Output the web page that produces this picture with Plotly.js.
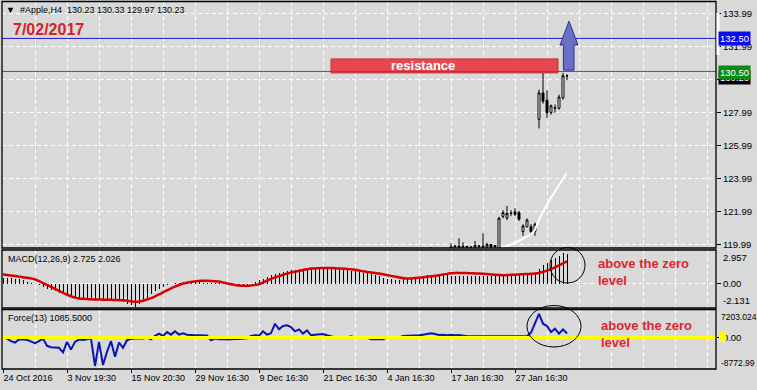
<!DOCTYPE html>
<html><head><meta charset="utf-8">
<script src="https://cdn.plot.ly/plotly-3.0.1.min.js"></script>
<style>html,body{margin:0;padding:0;background:#d9d9d9;}</style>
</head><body><div id="chart" style="width:757px;height:390px;"></div>
<script>
// ---- data ----
const barCount = 142;
const tickIdx = [0,16,32,48,64,80,96,112,128];
const tickLabels = ['24 Oct 2016','3 Nov 19:30','15 Nov 20:30','29 Nov 16:30','9 Dec 16:30','21 Dec 16:30','4 Jan 16:30','17 Jan 16:30','27 Jan 16:30'];
const minorIdx = [8,24,40,56,72,88,104,120,136,144,152,160,168,176];
const priceTicks = [119.99,121.99,123.99,125.99,127.99,129.99,131.99,133.99];
const priceTickText = ['119.99','121.99','123.99','125.99','127.99','','131.99','133.99'];

const candleStart = 107;
const openP  = [119.55,119.70,119.50,119.62,119.55,119.72,119.88,119.92,119.86,119.90,119.84,119.86,119.95,119.91,119.86,120.02,119.88,119.70,121.72,121.62,121.90,122.00,121.95,120.80,121.10,121.10,120.82,127.60,129.20,128.75,128.02,128.27,128.28,128.90,130.23];
const highP  = [119.86,119.78,119.72,119.75,119.79,120.09,119.98,120.40,120.15,119.95,119.92,120.23,120.00,120.70,120.12,120.05,120.00,121.70,122.10,122.36,122.10,122.22,122.05,121.25,121.60,121.25,121.35,129.40,130.45,129.35,128.50,128.50,129.10,130.41,130.33];
const lowP   = [119.40,119.45,119.35,119.40,119.45,119.60,119.70,119.72,119.70,119.65,119.66,119.72,119.78,119.75,119.74,119.80,119.70,119.60,121.60,121.50,121.73,121.75,121.45,120.55,121.05,120.65,120.55,127.05,128.55,127.68,127.88,128.00,128.18,128.79,129.97];
const closeP = [119.70,119.50,119.62,119.55,119.72,119.88,119.92,119.86,119.90,119.84,119.86,119.95,119.91,119.86,120.02,119.88,119.96,121.61,121.95,121.90,121.92,121.85,121.55,121.14,121.50,120.80,121.25,129.20,128.70,128.00,128.42,128.30,128.95,130.24,130.23];

const arcIdx   = [124.5,127.5,130,132.5,134.25,136.75,139.25,140.9];
const arcPrice = [119.82,120.08,120.38,120.75,121.65,122.75,123.70,124.35];

const macdMain = [0.55,0.55,0.5,0.45,0.4,0.3,0.12,0.05,0.0,-0.1,
-0.3,-0.45,-0.6,-0.7,-0.85,-0.95,-1.06,-1.2,-1.3,-1.36,
-1.4,-1.42,-1.44,-1.45,-1.45,-1.46,-1.48,-1.5,-1.55,-1.6,
-1.7,-1.85,-1.98,-2.131,-1.9,-1.6,-1.3,-0.95,-0.7,-0.45,
-0.3,-0.15,-0.06,0.05,0.08,0.1,0.1,0.12,0.1,0.1,
0.08,0.07,0.06,0.05,0.03,0.0,-0.05,-0.08,-0.12,-0.15,
-0.15,-0.12,-0.08,0.1,0.3,0.45,0.6,0.75,0.9,1.0,
1.08,1.15,1.2,1.25,1.3,1.33,1.35,1.36,1.37,1.37,
1.36,1.35,1.33,1.3,1.28,1.25,1.22,1.18,1.12,1.06,
1.0,0.93,0.85,0.75,0.65,0.55,0.45,0.4,0.36,0.35,
0.38,0.42,0.48,0.55,0.62,0.7,0.75,0.78,0.8,0.8,
0.78,0.76,0.72,0.7,0.7,0.72,0.72,0.7,0.68,0.66,
0.65,0.66,0.68,0.7,0.78,0.82,0.85,0.86,0.86,0.87,
0.88,0.9,0.9,0.92,1.3,1.65,1.9,2.1,2.3,2.5,
2.8,2.725];
const macdSignal = [0.82,0.78,0.73,0.68,0.63,0.58,0.52,0.47,0.38,0.22,
0.05,-0.12,-0.3,-0.48,-0.66,-0.84,-1.0,-1.15,-1.27,-1.36,
-1.39,-1.41,-1.43,-1.44,-1.45,-1.46,-1.47,-1.48,-1.49,-1.51,
-1.52,-1.56,-1.61,-1.66,-1.64,-1.56,-1.45,-1.33,-1.17,-0.99,
-0.8,-0.61,-0.44,-0.28,-0.13,0.0,0.08,0.15,0.2,0.24,
0.25,0.25,0.24,0.22,0.18,0.1,0.02,-0.07,-0.13,-0.17,
-0.2,-0.21,-0.18,-0.12,-0.06,0.1,0.26,0.42,0.56,0.67,
0.79,0.9,1.0,1.08,1.15,1.23,1.3,1.36,1.38,1.4,
1.41,1.42,1.41,1.4,1.38,1.35,1.33,1.3,1.25,1.19,
1.12,1.06,1.01,0.96,0.91,0.84,0.77,0.7,0.63,0.56,
0.5,0.45,0.47,0.5,0.54,0.58,0.62,0.66,0.7,0.76,
0.82,0.88,0.93,0.97,0.97,0.96,0.95,0.94,0.92,0.91,
0.89,0.86,0.83,0.8,0.78,0.76,0.77,0.79,0.81,0.83,
0.85,0.87,0.89,0.91,0.96,1.06,1.18,1.32,1.48,1.65,
1.84,2.026];
const force = [180,-270,-980,-1340,-540,-450,-630,-980,-1520,-980,
-270,-2230,-2590,-2680,-2770,-4020,-1160,-3210,-1160,-540,
-630,-450,-270,-7680,-1160,-7410,-3840,-980,-5180,-1340,
-2770,-710,-360,-270,-270,-270,0,-450,440,1060,
440,1510,790,1690,790,1160,790,620,620,620,
620,530,-710,-270,-450,-360,-540,-360,-360,-360,
-270,-190,440,620,530,1690,790,1160,3740,2220,
3120,3300,2850,1690,2220,1060,1960,620,790,790,
970,620,350,0,0,0,0,350,0,0,
0,0,-450,-450,-450,-450,0,0,0,0,
440,440,530,620,620,790,970,1160,970,710,
790,620,790,620,710,440,350,350,350,350,
350,350,350,530,350,350,350,350,350,350,
350,350,1340,4020,6420,3740,3120,1510,2400,1060,
2220,1085.5];

const resistanceIdx = [82, 138.75];
const resistancePrice = [130.41, 131.26];
const blueLevel = 132.50, greenLevel = 130.50;

// ---- build ----
const idx = []; for (let i = 0; i < barCount; i++) idx.push(i);
const candleIdx = idx.slice(candleStart);

const W = 757, H = 390;
const px = x => x / W, py = y => 1 - y / H;
const FONT = 'Liberation Sans, Arial, sans-serif';
const dash = '4px,3px';

const traces = [
  {type:'candlestick', x:candleIdx, open:openP, high:highP, low:lowP, close:closeP, xaxis:'x', yaxis:'y',
   increasing:{line:{color:'#000', width:1}, fillcolor:'#ffffff'},
   decreasing:{line:{color:'#000', width:1}, fillcolor:'#000000'},
   whiskerwidth:0, hoverinfo:'skip'},
  {type:'scatter', mode:'lines', x:arcIdx, y:arcPrice, xaxis:'x', yaxis:'y', line:{color:'#ffffff', width:2, shape:'spline'}, hoverinfo:'skip'},
  {type:'bar', x:idx, y:macdMain, xaxis:'x', yaxis:'y2', width:0.25, marker:{color:'#000', line:{width:0}}, hoverinfo:'skip'},
  {type:'scatter', mode:'lines', x:idx, y:macdSignal, xaxis:'x', yaxis:'y2', line:{color:'#d80000', width:2.5, shape:'spline'}, hoverinfo:'skip'},
  {type:'scatter', mode:'lines', x:idx, y:force, xaxis:'x', yaxis:'y3', line:{color:'#0a14b4', width:2}, hoverinfo:'skip'}
];

const shapes = [
  {type:'rect', xref:'x', yref:'y', x0:resistanceIdx[0], x1:resistanceIdx[1], y0:resistancePrice[0], y1:resistancePrice[1], fillcolor:'#e9474f', line:{color:'#c8303a', width:1}, layer:'above'},
  {type:'line', xref:'paper', x0:px(2), x1:px(716), yref:'y', y0:blueLevel, y1:blueLevel, line:{color:'#1a1acc', width:1}},
  {type:'line', xref:'paper', x0:px(2), x1:px(716), yref:'y', y0:greenLevel, y1:greenLevel, line:{color:'#2b7a2b', width:1}},
  {type:'path', xref:'x', yref:'y', path:'M 140.1 130.58 L 140.1 132.1 L 139.25 132.1 L 141.5 133.55 L 143.75 132.1 L 142.75 132.1 L 142.75 130.58 Z', fillcolor:'#6870c8', line:{color:'#2e3490', width:1}, layer:'above'},
  {type:'line', xref:'paper', x0:px(2), x1:px(716), yref:'y3', y0:0, y1:0, line:{color:'#ffff00', width:3}, layer:'above'},
  {type:'rect', xref:'paper', yref:'paper', x0:px(719), x1:px(726), y0:py(342), y1:py(332), fillcolor:'#ffff00', line:{width:0}},
  {type:'rect', xref:'paper', yref:'paper', x0:px(2), x1:px(716), y0:py(248), y1:py(1.5), line:{color:'#000', width:1.3}, layer:'above'},
  {type:'rect', xref:'paper', yref:'paper', x0:px(2), x1:px(716), y0:py(308), y1:py(250), line:{color:'#000', width:1.3}, layer:'above'},
  {type:'rect', xref:'paper', yref:'paper', x0:px(2), x1:px(716), y0:py(369), y1:py(309.5), line:{color:'#000', width:1.3}, layer:'above'},
  {type:'rect', xref:'paper', yref:'paper', x0:px(716.5), x1:px(719.5), y0:py(55), y1:py(13), fillcolor:'#ffffff', line:{width:0}, layer:'above'},
  {type:'circle', xref:'paper', yref:'paper', x0:px(550), x1:px(585), y0:py(283), y1:py(247.5), line:{color:'#000', width:1}, layer:'above'},
  {type:'circle', xref:'paper', yref:'paper', x0:px(527), x1:px(581), y0:py(347), y1:py(305.5), line:{color:'#000', width:1}, layer:'above'}
];

const red = '#e0252b';
const ann = (text, x, y, opt) => Object.assign({text, x:px(x), y:py(y), xref:'paper', yref:'paper', xanchor:'left', yanchor:'middle', showarrow:false, font:{family:FONT, size:9, color:'#000'}}, opt || {});
const annotations = [
  ann('▼  #Apple,H4  130.23 130.33 129.97 130.23', 4, 10),
  ann('<b>7/02/2017</b>', 11, 29.5, {font:{family:FONT, size:16, color:'#d42226'}}),
  ann('MACD(12,26,9) 2.725 2.026', 6, 259),
  ann('Force(13) 1085.5000', 6, 318),
  {text:'<b>resistance</b>', x:105, y:(resistancePrice[0]+resistancePrice[1])/2, xref:'x', yref:'y', showarrow:false, xanchor:'center', yanchor:'middle', font:{family:FONT, size:13, color:'#ffffff'}},
  ann('<b>above the zero<br>level</b>', 596, 271.5, {align:'left', font:{family:FONT, size:13, color:red}}),
  ann('<b>above the zero<br>level</b>', 599, 333.5, {align:'left', font:{family:FONT, size:13, color:red}}),
  ann('130.23', 718, 78, {bgcolor:'#000', font:{family:FONT, size:9.5, color:'#fff'}, borderpad:1}),
  ann('130.50', 718, 72, {bgcolor:'#0c8a18', font:{family:FONT, size:9.5, color:'#fff'}, borderpad:1}),
  ann('132.50', 718, 39, {bgcolor:'#0a0af0', font:{family:FONT, size:9.5, color:'#fff'}, borderpad:1}),
  ann('2.957', 721, 257.3, {font:{family:FONT, size:9.5, color:'#000'}}),
  ann('-2.131', 721, 300.7, {font:{family:FONT, size:9.5, color:'#000'}}),
  ann('7203.024', 719, 316.7, {font:{family:FONT, size:8.5, color:'#000'}}),
  ann('-8772.99', 719, 363.3, {font:{family:FONT, size:8.5, color:'#000'}})
];

const yCommon = {side:'right', anchor:'x', ticks:'outside', ticklen:4, tickcolor:'#000', zeroline:false, showline:false, fixedrange:true, tickfont:{family:FONT, size:9.5, color:'#000'}, gridcolor:'#ffffff', griddash:dash, gridwidth:1};

const layout = {
  width:W, height:H, margin:{l:0, r:0, t:0, b:0}, autosize:false,
  paper_bgcolor:'#d9d9d9', plot_bgcolor:'#d9d9d9', showlegend:false,
  font:{family:FONT, size:9, color:'#000'},
  xaxis:{domain:[px(2), px(716)], range:[-0.25, 178.25], anchor:'y3', tickmode:'array', tickvals:tickIdx, ticktext:tickLabels,
    ticks:'outside', ticklen:3, tickcolor:'#000', ticklabelposition:'outside right', showgrid:true, gridcolor:'#ffffff', griddash:dash, gridwidth:1,
    minor:{tickmode:'array', tickvals:minorIdx, showgrid:true, gridcolor:'#ffffff', griddash:dash, gridwidth:1, ticklen:0},
    zeroline:false, showline:false, rangeslider:{visible:false}, fixedrange:true, tickfont:{family:FONT, size:9, color:'#000'}},
  yaxis:Object.assign({}, yCommon, {domain:[py(248), py(1.5)], range:[119.808, 134.736], tickmode:'array', tickvals:priceTicks, ticktext:priceTickText, showgrid:true}),
  yaxis2:Object.assign({}, yCommon, {domain:[py(308), py(250)], range:[-2.22, 3.05], tickmode:'array', tickvals:[0], ticktext:['0.00'], showgrid:true}),
  yaxis3:Object.assign({}, yCommon, {domain:[py(369), py(309.5)], range:[-8496, 7584], tickmode:'array', tickvals:[0], ticktext:['0.00'], showgrid:false}),
  bargap:0, shapes, annotations
};

Plotly.newPlot('chart', traces, layout, {staticPlot:true, displayModeBar:false});
</script></body></html>
